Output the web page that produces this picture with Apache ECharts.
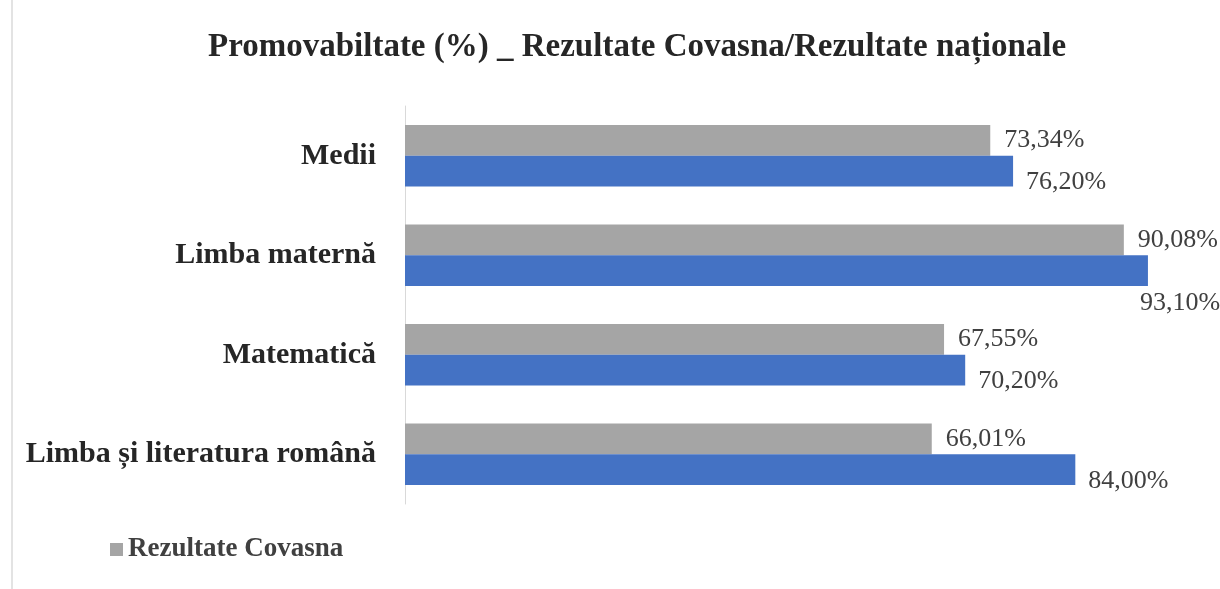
<!DOCTYPE html>
<html>
<head>
<meta charset="utf-8">
<script src="https://cdn.jsdelivr.net/npm/echarts@6/dist/echarts.min.js"></script>
<style>html,body{margin:0;padding:0;background:#fff}#c{width:1220px;height:589px}</style>
</head>
<body>
<div id="c"></div>
<script>
const categories = ['Medii', 'Limba maternă', 'Matematică', 'Limba și literatura română'];
const covasna = [73.34, 90.08, 67.55, 66.01];
const nationale = [76.20, 93.10, 70.20, 84.00];
const seriesNames = ['Rezultate Covasna', 'Rezultate naționale'];
const titleText = 'Promovabiltate (%) _ Rezultate Covasna/Rezultate naționale';

const fmt = v => v.toFixed(2).replace('.', ',') + '%';
const serif = '"Liberation Serif", "DejaVu Serif", serif';

const chart = echarts.init(document.getElementById('c'));
chart.setOption({
  animation: false,
  title: {
    text: titleText, left: 203, top: 26,
    textStyle: { fontFamily: serif, fontSize: 33, fontWeight: 'bold', color: '#262626' }
  },
  legend: {
    data: [seriesNames[0]], left: 105, top: 531, icon: 'rect', itemWidth: 13, itemHeight: 13, itemGap: 8,
    textStyle: { fontFamily: serif, fontSize: 27, fontWeight: 'bold', color: '#404040' }
  },
  grid: { left: 405, right: 17, top: 106, bottom: 85, containLabel: false },
  xAxis: { type: 'value', min: 0, max: 100, show: false },
  yAxis: {
    type: 'category', data: categories, inverse: true,
    axisLine: { show: true, lineStyle: { color: '#d9d9d9', width: 1 } },
    axisTick: { show: false },
    axisLabel: { fontFamily: serif, fontSize: 30, fontWeight: 'bold', color: '#262626', margin: 29 }
  },
  series: [
    {
      name: seriesNames[0], type: 'bar', data: covasna, barGap: '0%', barCategoryGap: '38%',
      itemStyle: { color: '#a5a5a5' },
      label: { show: true, position: 'right', distance: 14, formatter: p => fmt(p.value),
        fontFamily: serif, fontSize: 26, color: '#404040' }
    },
    {
      name: seriesNames[1], type: 'bar', data: nationale.map((v, i) => i === 1 ? {
        value: v, label: { position: ['100%', '100%'], offset: [-8, 4], align: 'left', verticalAlign: 'top' }
      } : v),
      itemStyle: { color: '#4472c4' },
      label: { show: true, position: 'right', distance: 13, offset: [0, 11], formatter: p => fmt(p.value),
        fontFamily: serif, fontSize: 26, color: '#404040' }
    }
  ],
  graphic: [{ type: 'line', shape: { x1: 12, y1: 0, x2: 12, y2: 589 }, style: { stroke: '#e3e3e3', lineWidth: 2 } }]
});
</script>
</body>
</html>
